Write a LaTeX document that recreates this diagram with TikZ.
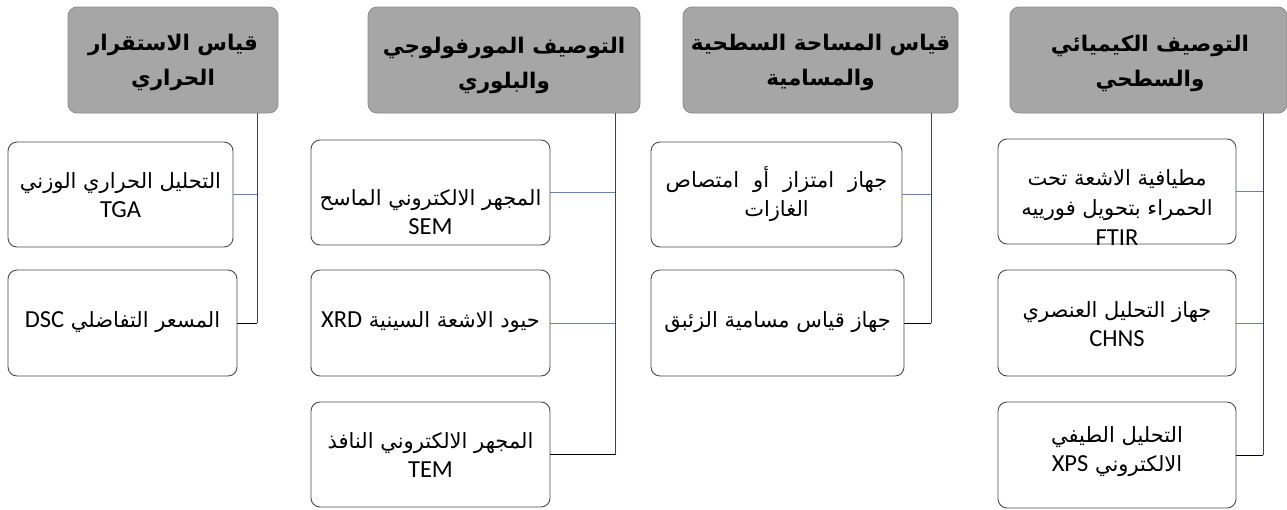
\documentclass[tikz,border=0pt]{standalone}
\usepackage{fontspec}
\TeXXeTstate=1
\newfontfamily\arabicfont[Script=Arabic]{DejaVu Sans}
\newfontfamily\latinfont{Carlito}
\newcommand\AR[1]{{\arabicfont\beginR #1\endR}}
\newcommand\LA[1]{\beginL{\latinfont\fontsize{24.5}{29}\selectfont #1}\endL{}}
\newcommand\WS{\hspace{14pt}}
\definecolor{hdrfill}{HTML}{A6A6A6}
\definecolor{hdrdraw}{HTML}{8C8C8C}
\definecolor{boxdraw}{HTML}{4A4A4A}
\definecolor{vline}{HTML}{3E4257}
\definecolor{hline}{HTML}{6F7FAE}
\begin{document}
\begin{tikzpicture}[x=1pt,y=-1pt,
  hdr/.style={draw=hdrdraw, fill=hdrfill, rounded corners=9pt, line width=0.8pt,
    minimum height=106pt, inner sep=0pt},
  htext/.style={align=center, inner sep=0pt,
    font=\fontsize{21.5}{35}\selectfont\bfseries},
  cbox/.style={draw=boxdraw, fill=white, rounded corners=9pt, line width=0.9pt,
    minimum height=105pt, inner sep=0pt},
  ctext/.style={align=center, inner sep=0pt, font=\fontsize{21}{29}\selectfont},
  vconn/.style={draw=vline, line width=0.9pt},
  hconn/.style={draw=hline, line width=0.7pt},
  lconn/.style={draw=black, line width=0.9pt}]
\useasboundingbox (0,0) rectangle (1287,509);
\fill[white] (0,0) rectangle (1287,509);

% headers
\node[hdr, minimum width=210pt] (h1) at (173,60) {};
\node[htext] (h1t) at (173,62) {\AR{قياس الاستقرار}\\\AR{الحراري}};
\node[hdr, minimum width=272pt] (h2) at (504,60) {};
\node[htext] (h2t) at (504,65) {\AR{التوصيف المورفولوجي}\\\AR{والبلوري}};
\node[hdr, minimum width=275pt] (h3) at (820.5,60) {};
\node[htext] (h3t) at (820.5,62) {\AR{قياس المساحة السطحية}\\\AR{والمسامية}};
\node[hdr, minimum width=277pt] (h4) at (1148.5,60) {};
\node[htext] (h4t) at (1150,63) {\AR{التوصيف الكيميائي}\\\AR{والسطحي}};

% column 1
\node[cbox, minimum width=225pt] (a1) at (120.5,194.5) {};
\node[ctext] (a1t) at (120.5,195) {\AR{التحليل الحراري الوزني}\\\LA{TGA}};
\node[cbox, minimum width=229pt, minimum height=106pt] (a2) at (122.5,323) {};
\node[ctext] (a2t) at (122.5,322) {\AR{المسعر التفاضلي \LA{DSC}}};

% column 2
\node[cbox, minimum width=239pt] (b1) at (430.5,192.5) {};
\node[ctext] (b1t) at (430.5,212) {\AR{المجهر الالكتروني الماسح}\\\LA{SEM}};
\node[cbox, minimum width=239pt, minimum height=106pt] (b2) at (430.5,323) {};
\node[ctext] (b2t) at (430.5,322) {\AR{حيود الاشعة السينية \LA{XRD}}};
\node[cbox, minimum width=239pt] (b3) at (430.5,454.5) {};
\node[ctext] (b3t) at (430.5,455) {\AR{المجهر الالكتروني النافذ}\\\LA{TEM}};

% column 3
\node[cbox, minimum width=251pt] (c1) at (776.5,194.5) {};
\node[ctext] (c1t) at (776.5,194) {\AR{جهاز\WS امتزاز\WS أو\WS امتصاص}\\\AR{الغازات}};
\node[cbox, minimum width=253pt, minimum height=106pt] (c2) at (777.5,323) {};
\node[ctext] (c2t) at (777.5,322) {\AR{جهاز قياس مسامية الزئبق}};

% column 4
\node[cbox, minimum width=238pt] (d1) at (1117,191.5) {};
\begin{scope}
  \clip (d1.north west) rectangle (d1.south east);
  \node[ctext, font=\fontsize{21}{30}\selectfont] (d1t) at (1117,208) {\AR{مطيافية الاشعة تحت}\\\AR{الحمراء بتحويل فورييه}\\\LA{FTIR}};
\end{scope}
\node[cbox, minimum width=238pt, minimum height=106pt] (d2) at (1117,323) {};
\node[ctext] (d2t) at (1117,324) {\AR{جهاز التحليل العنصري}\\\LA{CHNS}};
\node[cbox, minimum width=238pt, minimum height=106pt] (d3) at (1117,455) {};
\node[ctext] (d3t) at (1117,452) {\AR{التحليل الطيفي}\\\AR{الالكتروني \LA{XPS}}};

% connector columns
\coordinate (v1) at (257,0);
\coordinate (v2) at (615,0);
\coordinate (v3) at (931,0);
\coordinate (v4) at (1263,0);

\draw[hconn] (a1.east) -- (a1.east -| v1);
\draw[lconn] (a2.east) -- (a2.east -| v1);
\draw[vconn] (h1.south -| v1) -- (a2.east -| v1);

\draw[hconn] (b1.east) -- (b1.east -| v2);
\draw[hconn] (b2.east) -- (b2.east -| v2);
\draw[lconn] (b3.east) -- (b3.east -| v2);
\draw[vconn] (h2.south -| v2) -- (b3.east -| v2);

\draw[hconn] (c1.east) -- (c1.east -| v3);
\draw[lconn] (c2.east) -- (c2.east -| v3);
\draw[vconn] (h3.south -| v3) -- (c2.east -| v3);

\draw[hconn] (d1.east) -- (d1.east -| v4);
\draw[hconn] (d2.east) -- (d2.east -| v4);
\draw[lconn] (d3.east) -- (d3.east -| v4);
\draw[vconn] (h4.south -| v4) -- (d3.east -| v4);
\end{tikzpicture}
\end{document}
